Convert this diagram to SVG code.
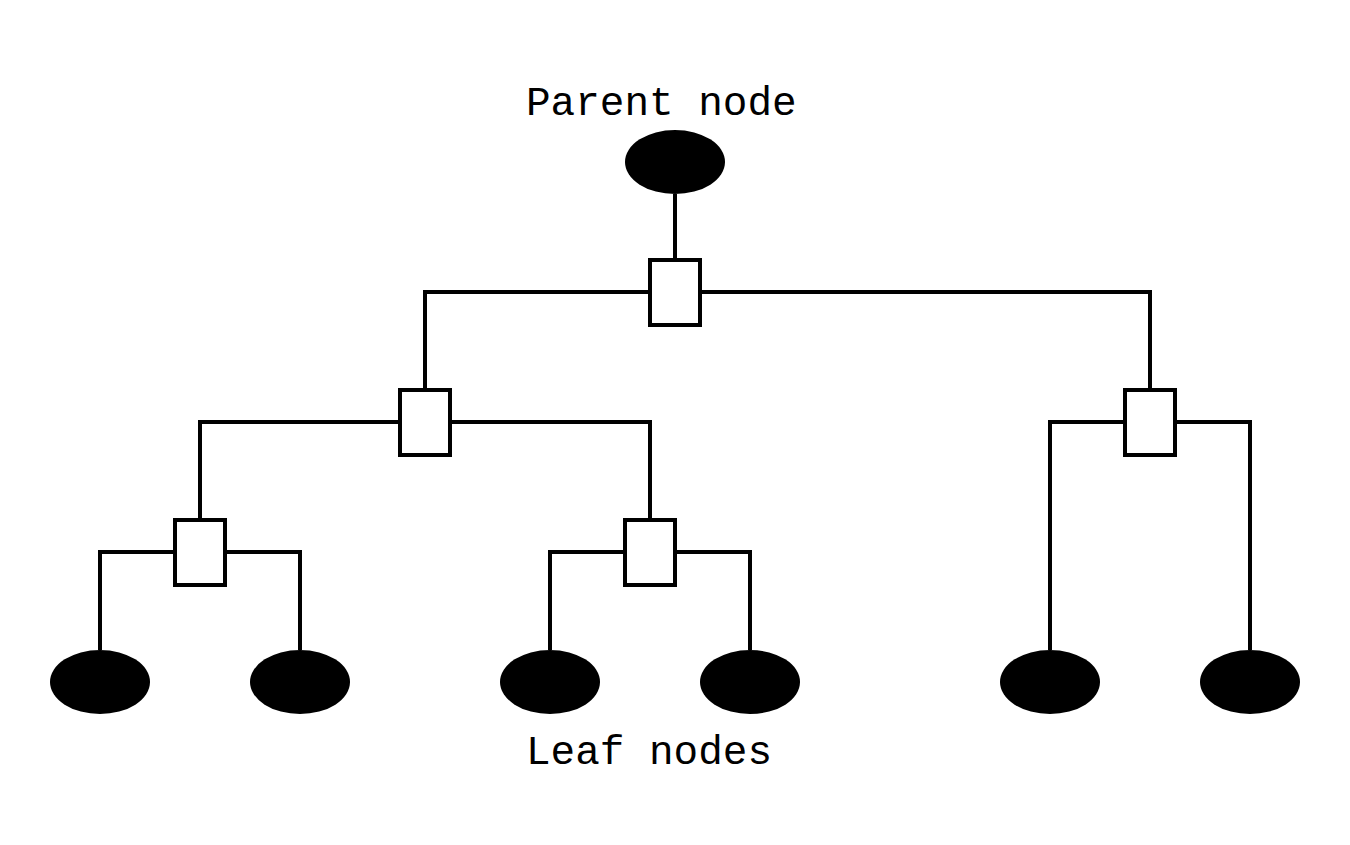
<svg xmlns="http://www.w3.org/2000/svg" width="1350" height="845" viewBox="0 0 1350 845">
<style>
.edge{fill:none;stroke:#000;stroke-width:4;stroke-linejoin:miter}
.box{fill:#fff;stroke:#000;stroke-width:4}
.leaf{fill:#000}
.lbl{font-family:"Liberation Mono","DejaVu Sans Mono",monospace;font-size:41px;fill:#000}
</style>
<rect width="1350" height="845" fill="#fff"/>
<g id="connectors">
<path class="edge" d="M675 194V260"/>
<path class="edge" d="M650 292H425V390"/>
<path class="edge" d="M700 292H1150V390"/>
<path class="edge" d="M400 422H200V520"/>
<path class="edge" d="M450 422H650V520"/>
<path class="edge" d="M1125 422H1050V650"/>
<path class="edge" d="M1175 422H1250V650"/>
<path class="edge" d="M175 552H100V650"/>
<path class="edge" d="M225 552H300V650"/>
<path class="edge" d="M625 552H550V650"/>
<path class="edge" d="M675 552H750V650"/>
</g>
<g id="parent"><ellipse class="leaf" cx="675" cy="162" rx="50" ry="32"/></g>
<g id="j0"><rect class="box" x="650" y="260" width="50" height="65"/></g>
<g id="j1"><rect class="box" x="400" y="390" width="50" height="65"/></g>
<g id="j2"><rect class="box" x="1125" y="390" width="50" height="65"/></g>
<g id="j3"><rect class="box" x="175" y="520" width="50" height="65"/></g>
<g id="j4"><rect class="box" x="625" y="520" width="50" height="65"/></g>
<g id="leaf1"><ellipse class="leaf" cx="100" cy="682" rx="50" ry="32"/></g>
<g id="leaf2"><ellipse class="leaf" cx="300" cy="682" rx="50" ry="32"/></g>
<g id="leaf3"><ellipse class="leaf" cx="550" cy="682" rx="50" ry="32"/></g>
<g id="leaf4"><ellipse class="leaf" cx="750" cy="682" rx="50" ry="32"/></g>
<g id="leaf5"><ellipse class="leaf" cx="1050" cy="682" rx="50" ry="32"/></g>
<g id="leaf6"><ellipse class="leaf" cx="1250" cy="682" rx="50" ry="32"/></g>
<g id="labels">
<text class="lbl" x="526" y="115">Parent node</text>
<text class="lbl" x="526" y="764">Leaf nodes</text>
</g>
</svg>
